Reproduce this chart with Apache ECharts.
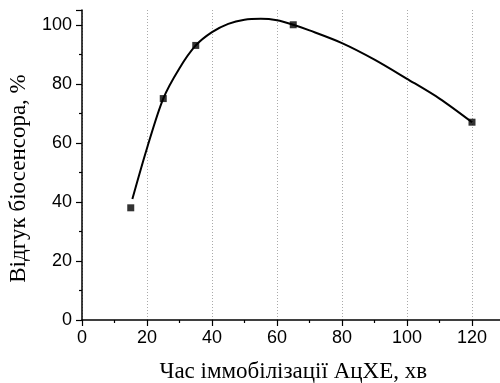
<!DOCTYPE html>
<html>
<head>
<meta charset="utf-8">
<script src="https://cdn.jsdelivr.net/npm/echarts@6/dist/echarts.min.js"></script>
<style>html,body{margin:0;padding:0;background:#fff;}#chart{width:500px;height:383px;}</style>
</head>
<body>
<div id="chart"></div>
<script>
// measured points
var pointX = [15, 25, 35, 65, 120];
var pointY = [38, 75, 93, 100, 67];
// fitted curve
var curveX = [15.5, 20, 25, 30, 35, 40, 45, 50, 55, 60, 65, 70, 80, 90, 100, 110, 120];
var curveY = [41, 58.2, 75, 85.3, 93, 97.5, 100.3, 101.7, 102, 101.5, 100, 98.1, 93.8, 88.2, 81.7, 75, 67];
var xTicks = [0, 20, 40, 60, 80, 100, 120];
var yTicks = [0, 20, 40, 60, 80, 100];
var xTitle = 'Час іммобілізації АцХЕ, хв';
var yTitle = 'Відгук біосенсора, %';

var chart = echarts.init(document.getElementById('chart'), null, {renderer: 'canvas'});
var numFont = '"Liberation Sans", Arial, sans-serif';
var serifFont = '"Liberation Serif", "Times New Roman", serif';
chart.setOption({
  animation: false,
  backgroundColor: '#fff',
  grid: {left: 82, top: 10, bottom: 63, right: -4.5, containLabel: false, outerBoundsMode: 'none'},
  xAxis: {
    type: 'value', min: 0, max: 130, interval: 20,
    name: xTitle, nameLocation: 'middle', nameGap: 40,
    nameTextStyle: {fontFamily: serifFont, fontSize: 23, color: '#000'},
    axisLine: {show: true, onZero: false, lineStyle: {color: '#000', width: 1.5}},
    axisTick: {show: true, inside: false, length: 6, lineStyle: {color: '#000', width: 1.2}},
    minorTick: {show: true, splitNumber: 2, length: 3, lineStyle: {color: '#000', width: 1.2}},
    axisLabel: {fontFamily: numFont, fontSize: 18, color: '#000', margin: 9,
      formatter: function (v) { return xTicks.indexOf(v) >= 0 ? String(v) : ''; }},
    splitLine: {show: true, lineStyle: {color: '#aaa', type: [1, 2], width: 1}}
  },
  yAxis: {
    type: 'value', min: 0, max: 105, interval: 20,
    axisLine: {show: true, onZero: false, lineStyle: {color: '#000', width: 1.5}},
    axisTick: {show: true, inside: false, length: 6, lineStyle: {color: '#000', width: 1.2}},
    minorTick: {show: true, splitNumber: 2, length: 3, lineStyle: {color: '#000', width: 1.2}},
    axisLabel: {fontFamily: numFont, fontSize: 18, color: '#000', margin: 10, showMaxLabel: false,
      formatter: function (v) { return yTicks.indexOf(v) >= 0 ? String(v) : ''; }},
    splitLine: {show: false}
  },
  graphic: [{
    type: 'text', rotation: Math.PI / 2,
    x: 19, y: 178.5,
    style: {text: yTitle, font: '23px ' + serifFont, fill: '#000', align: 'center', verticalAlign: 'middle'}
  }],
  series: [
    {
      type: 'line', smooth: 0.3, symbol: 'none', z: 2,
      lineStyle: {color: '#000', width: 2},
      data: curveX.map(function (x, i) { return [x, curveY[i]]; })
    },
    {
      type: 'scatter', symbol: 'rect', symbolSize: 7, z: 3,
      itemStyle: {color: '#000'},
      data: pointX.map(function (x, i) { return [x, pointY[i]]; })
    }
  ]
});
</script>
</body>
</html>
